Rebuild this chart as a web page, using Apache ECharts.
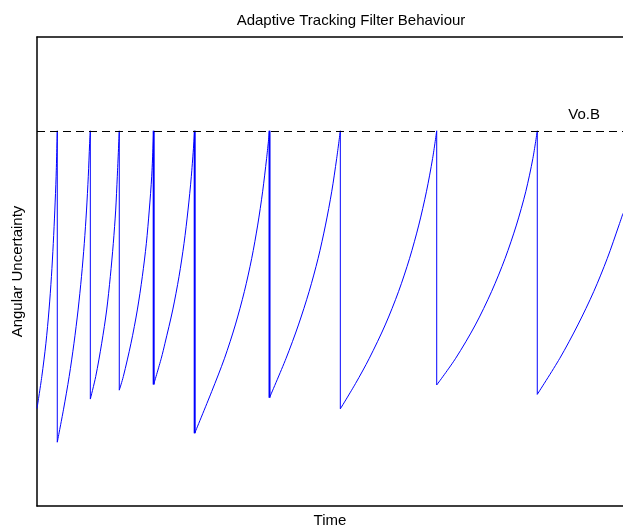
<!DOCTYPE html>
<html>
<head>
<meta charset="utf-8">
<title>Adaptive Tracking Filter Behaviour</title>
<script src="https://cdn.jsdelivr.net/npm/echarts@6/dist/echarts.min.js"></script>
<style>
  html, body { margin: 0; padding: 0; background: #fff; }
  #chart { width: 623px; height: 531px; }
</style>
</head>
<body>
<div id="chart"></div>
<script>
// Sawtooth of angular uncertainty: it grows between track updates and
// drops back down each time an update arrives at the Vo.B threshold.
const time = [
  0, 0.82, 1.52, 2.05, 2.46, 2.78, 3.04, 3.26, 3.46,
  3.46, 4.51, 5.49, 6.31, 7.01, 7.59, 8.07, 8.45, 8.75, 8.98, 9.10,
  9.10, 10.02, 11.04, 11.89, 12.51, 13.02, 13.43, 13.70, 14.04,
  14.04, 14.73, 16.04, 17.12, 17.97, 18.66, 19.16, 19.57, 19.91,
  19.91, 21.21, 21.84, 23.16, 24.23, 25.09, 25.77, 26.33, 26.91,
  26.91, 29.81, 32.00, 33.84, 35.38, 36.64, 37.66, 38.50, 39.18, 39.68,
  39.68, 42.51, 44.61, 46.43, 47.97, 49.23, 50.29, 51.14, 51.76,
  51.76, 54.35, 56.71, 59.42, 61.69, 63.58, 65.15, 66.45, 67.51, 68.21,
  68.21, 71.45, 74.80, 77.56, 79.88, 81.81, 83.40, 84.62, 85.37,
  85.37, 89.22, 92.29, 95.00, 97.32, 99.32, 100
];
const uncertainty = [
  20.8, 27.6, 34.7, 41.8, 48.9, 56.0, 63.1, 70.2, 80,
  13.6, 20.5, 27.6, 34.7, 41.8, 48.9, 56.0, 63.1, 70.2, 77.3, 80,
  22.8, 27.6, 34.7, 41.8, 48.9, 56.0, 63.1, 70.2, 80,
  24.7, 27.6, 34.7, 41.8, 48.9, 56.0, 63.1, 70.2, 80,
  25.9, 31.5, 34.7, 41.8, 48.9, 56.0, 63.1, 70.2, 80,
  15.5, 24.4, 31.5, 38.6, 45.7, 52.8, 59.9, 67.0, 74.1, 80,
  23.1, 31.5, 38.6, 45.7, 52.8, 59.9, 67.0, 74.1, 80,
  20.7, 26.1, 31.5, 38.6, 45.7, 52.8, 59.9, 67.0, 74.1, 80,
  25.8, 31.5, 38.6, 45.7, 52.8, 59.9, 67.0, 74.1, 80,
  23.8, 31.5, 38.6, 45.7, 52.8, 59.9, 62.4
];
const thresholdLevel = 80;
const thresholdLabel = 'Vo.B';

// Split the samples into growth cycles (a repeated time marks a reset),
// and collect the vertical reset drops between them.
const cycles = [];
const drops = [];
let current = [];
time.forEach((t, i) => {
  if (i > 0 && t === time[i - 1]) {
    cycles.push(current);
    drops.push([[time[i - 1], uncertainty[i - 1]], [t, uncertainty[i]]]);
    current = [];
  }
  current.push([t, uncertainty[i]]);
});
cycles.push(current);

// Resets drawn with a heavier stroke.
const heavyDrops = [3, 4, 5];

const chart = echarts.init(document.getElementById('chart'), null, { renderer: 'canvas' });
const font = 'Liberation Sans, Arial, Helvetica, sans-serif';
const blue = '#0000ff';
const hiddenAxis = {
  axisTick: { show: false },
  axisLabel: { show: false },
  splitLine: { show: false }
};

const series = cycles.map((pts) => ({
  type: 'line',
  data: pts,
  showSymbol: false,
  smooth: 0.3,
  clip: true,
  lineStyle: { color: blue, width: 1 },
  z: 3
}));

drops.forEach((pts, k) => {
  series.push({
    type: 'line',
    data: pts,
    showSymbol: false,
    clip: true,
    lineStyle: { color: blue, width: heavyDrops.includes(k) ? 2 : 1 },
    z: 3
  });
});

series.push({
  type: 'line',
  data: [],
  markLine: {
    silent: true,
    symbol: ['none', 'none'],
    lineStyle: { color: '#000', width: 1, type: [8, 5] },
    label: {
      show: true,
      formatter: thresholdLabel,
      position: 'insideEndTop',
      distance: [23, 8],
      fontFamily: font,
      fontSize: 15,
      color: '#000'
    },
    data: [{ yAxis: thresholdLevel }]
  }
});

chart.setOption({
  animation: false,
  backgroundColor: '#ffffff',
  title: {
    text: 'Adaptive Tracking Filter Behaviour',
    left: 346,
    textAlign: 'center',
    top: 8,
    textStyle: { fontFamily: font, fontSize: 15, fontWeight: 'normal', color: '#000' }
  },
  grid: { left: 37, top: 37, right: 0, bottom: 25, outerBoundsMode: 'none' },
  xAxis: [
    Object.assign({
      type: 'value', min: 0, max: 100, position: 'bottom',
      name: 'Time', nameLocation: 'middle', nameGap: 7,
      nameTextStyle: { fontFamily: font, fontSize: 15, color: '#000', verticalAlign: 'top' },
      axisLine: { show: true, onZero: false, lineStyle: { color: '#000', width: 1.5 } }
    }, hiddenAxis),
    Object.assign({
      type: 'value', min: 0, max: 100, position: 'top',
      axisLine: { show: true, onZero: false, lineStyle: { color: '#000', width: 1.5 } }
    }, hiddenAxis)
  ],
  yAxis: Object.assign({
    type: 'value', min: 0, max: 100,
    name: 'Angular Uncertainty', nameLocation: 'middle', nameGap: 12, nameRotate: 90,
    nameTextStyle: { fontFamily: font, fontSize: 15, color: '#000' },
    axisLine: { show: true, onZero: false, lineStyle: { color: '#000', width: 1.5 } }
  }, hiddenAxis),
  series: series
});
</script>
</body>
</html>
